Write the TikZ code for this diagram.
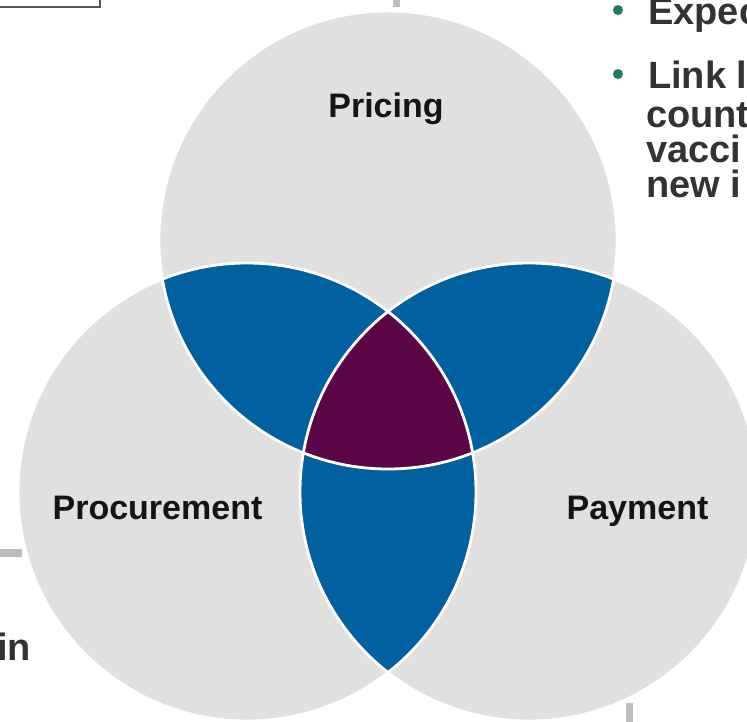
\documentclass[tikz,border=0pt]{standalone}
\usepackage{fontspec}
\setmainfont{Liberation Sans}
\definecolor{vgray}{HTML}{E0E0E0}
\definecolor{vblue}{HTML}{0060A0}
\definecolor{vpurple}{HTML}{5C0548}
\definecolor{bargray}{HTML}{BDBDBD}
\definecolor{txtgray}{HTML}{333333}
\definecolor{bulgreen}{HTML}{1A7D5C}
\definecolor{boxgray}{HTML}{555555}
\begin{document}
\begin{tikzpicture}[x=1pt,y=-1pt,
  circlelabel/.style={font=\fontsize{34}{40}\bfseries\selectfont, text=black!92, inner sep=0pt, anchor=base},
  sidetext/.style={font=\fontsize{38}{44}\bfseries\selectfont, text=txtgray, inner sep=0pt, anchor=base west},
  outline/.style={draw=white, line width=2.8pt},
  bar/.style={fill=bargray}]
\useasboundingbox (0,0) rectangle (747,721);
\clip (0,0) rectangle (747,721);
\coordinate (T) at (388,240);
\coordinate (L) at (247,492);
\coordinate (R) at (529,492);
% background fragments
\draw[boxgray, line width=2pt] (-10,-10) rectangle (100,7);
\fill[bar] (393,-2) rectangle (400,7);
\fill[bar] (-2,549) rectangle (22,557);
\fill[bar] (626,703) rectangle (633,725);
% circles
\fill[vgray] (T) circle[radius=229pt];
\fill[vgray] (L) circle[radius=229pt];
\fill[vgray] (R) circle[radius=229pt];
% pairwise intersections
\begin{scope}\clip (T) circle[radius=229pt]; \fill[vblue] (L) circle[radius=229pt];\end{scope}
\begin{scope}\clip (T) circle[radius=229pt]; \fill[vblue] (R) circle[radius=229pt];\end{scope}
\begin{scope}\clip (L) circle[radius=229pt]; \fill[vblue] (R) circle[radius=229pt];\end{scope}
% triple intersection
\begin{scope}\clip (T) circle[radius=229pt]; \clip (L) circle[radius=229pt]; \fill[vpurple] (R) circle[radius=229pt];\end{scope}
% outlines
\draw[outline] (T) circle[radius=229pt];
\draw[outline] (L) circle[radius=229pt];
\draw[outline] (R) circle[radius=229pt];
% labels
\node[circlelabel] (pricing) at (386,117) {Pricing};
\node[circlelabel] (procurement) at (157.5,519) {Procurement};
\node[circlelabel] (payment) at (637.5,519) {Payment};
% side text
\fill[bulgreen] (618,10) circle[radius=5pt];
\fill[bulgreen] (618,74) circle[radius=5pt];
\node[sidetext] (t1) at (648,24) {Expec};
\node[sidetext] (t2) at (648,88) {Link l};
\node[sidetext] (t3) at (646,127) {count};
\node[sidetext] (t4) at (646,162) {vacci};
\node[sidetext] (t5) at (646,197) {new i};
\node[sidetext] (t6) at (-3,660) {in};
\end{tikzpicture}
\end{document}
